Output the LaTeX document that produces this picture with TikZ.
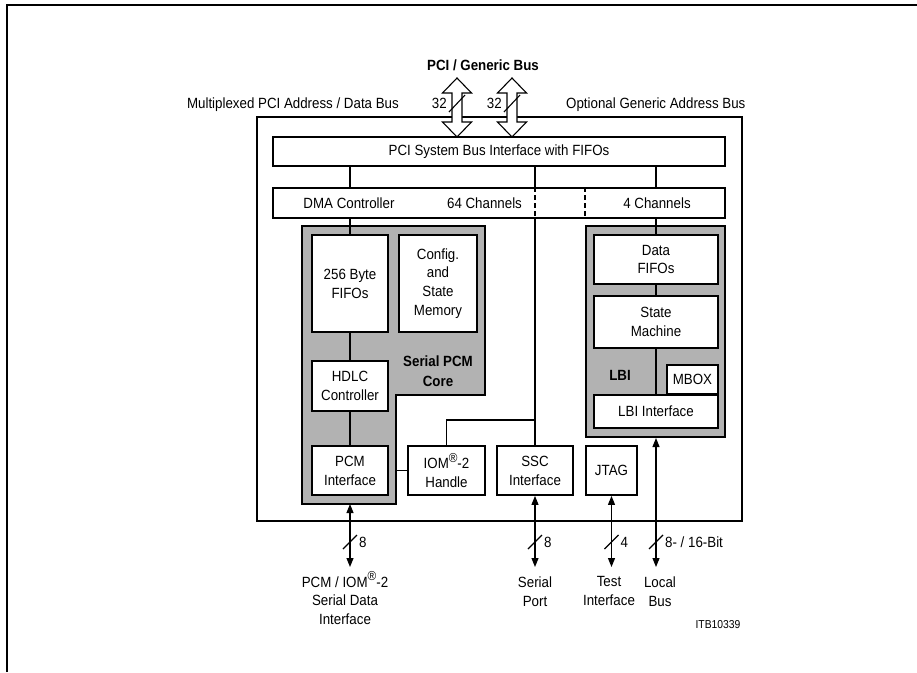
\documentclass[tikz,border=0pt]{standalone}
\usepackage{fontspec}
\setmainfont[FakeStretch=0.9]{Liberation Sans}
\usetikzlibrary{arrows.meta}

\newcommand\regmark{\raisebox{0.42em}{\fontsize{13}{13}\selectfont\textregistered}}

\begin{document}
\begin{tikzpicture}[x=1pt, y=-1pt,
    font=\fontsize{14.8}{18.8}\selectfont,
    blk/.style={draw, fill=white, line width=1.8pt, align=center, inner sep=0pt},
    core/.style={draw, fill=black!30, line width=2pt},
    wire/.style={line width=1.1pt},
    io/.style={wire, {Triangle[length=9pt,width=7pt]}-{Triangle[length=9pt,width=7pt]}},
    lbl/.style={align=center, inner sep=0pt},
    bold/.style={lbl, font=\fontsize{14.8}{20.5}\selectfont\bfseries}]
  \useasboundingbox (0,0) rectangle (917,672);
  % frame and chip
  \draw[line width=1.2pt] (7,672) -- (7,5) -- (917,5);
  \draw[line width=2.6pt] (257,117) rectangle (742,521);

  % serial PCM core and LBI
  \draw[core] (302,226) -- (485,226) -- (485,395) -- (396,395) -- (396,504) -- (302,504) -- cycle;
  \node[core, minimum width=139pt, minimum height=211pt, inner sep=0pt] (lbi) at (655.5,331.5) {};
  \node[bold] (corelbl) at (438,371) {Serial PCM\\Core};
  \node[bold] (lbilbl) at (620,375) {LBI};

  % PCI / generic bus
  \foreach \x in {457,512}
    \draw[wire, fill=white] (\x,78) -- ++(14.5,15) -- ++(-9.5,0) -- ++(0,29) -- ++(9.5,0)
      -- (\x,137) -- ++(-14.5,-15) -- ++(9.5,0) -- ++(0,-29) -- ++(-9.5,0) -- cycle;
  \foreach \x [count=\i] in {457,512} {
    \draw[wire] (\x-8,112) -- (\x+8,95);
    \node[lbl, anchor=base east] (w\i) at (\x-10,108) {32};
  }
  \node[bold] (bus) at (483,65) {PCI / Generic Bus};
  \node[lbl, anchor=base east] (muxlbl) at (399,108) {Multiplexed PCI Address / Data Bus};
  \node[lbl, anchor=base west] (genlbl) at (566,108) {Optional Generic Address Bus};

  % blocks
  \node[blk, minimum width=452pt, minimum height=29pt] (pci) at (499,151.5) {PCI System Bus Interface with FIFOs};
  \node[blk, minimum width=452pt, minimum height=30pt] (dma) at (499,203) {};
  \node[lbl, anchor=base] (dmalbl) at (349,208.5) {DMA Controller};
  \node[lbl, anchor=base] (ch64) at (484.5,208.5) {64 Channels};
  \node[lbl, anchor=base] (ch4) at (657,208.5) {4 Channels};

  \node[blk, minimum width=76pt, minimum height=97pt] (fifo) at (350,283.5) {256 Byte\\FIFOs};
  \node[blk, minimum width=78pt, minimum height=97pt] (cfg) at (438,283.5) {Config.\\and\\State\\Memory};
  \node[blk, minimum width=76pt, minimum height=50pt] (hdlc) at (350,386) {HDLC\\Controller};
  \node[blk, minimum width=76pt, minimum height=49pt] (pcm) at (350,470.5) {PCM\\Interface};
  \node[blk, minimum width=77pt, minimum height=49pt] (iom) at (446.5,470.5) {IOM\regmark-2\\Handle};
  \node[blk, minimum width=76pt, minimum height=49pt] (ssc) at (535,470.5) {SSC\\Interface};
  \node[blk, minimum width=51pt, minimum height=49pt] (jtag) at (611.5,470.5) {JTAG};

  \node[blk, minimum width=124pt, minimum height=49pt] (dfifo) at (656,259.5) {Data\\FIFOs};
  \node[blk, minimum width=124pt, minimum height=52pt] (sm) at (656,322) {State\\Machine};
  \node[blk, minimum width=51pt, minimum height=29pt] (mbox) at (692.5,379.5) {MBOX};
  \node[blk, minimum width=124pt, minimum height=33pt] (lbiif) at (656,411.5) {LBI Interface};

  % internal connections
  \draw[wire] (pci.south -| fifo) -- (dma.north -| fifo);
  \draw[wire] (pci.south -| ssc) -- (dma.north -| ssc);
  \draw[wire] (pci.south -| dfifo) -- (dma.north -| dfifo);
  \draw[wire, dash pattern=on 5pt off 3pt] (dma.north -| ssc) -- (dma.south -| ssc);
  \draw[wire, dash pattern=on 5pt off 3pt] (dma.north -| lbi.west) -- (dma.south -| lbi.west);
  \draw[wire] (dma.south -| fifo) -- (fifo.north);
  \draw[wire] (fifo) -- (hdlc);
  \draw[wire] (hdlc) -- (pcm);
  \draw[wire] (dma.south -| ssc) -- (ssc.north);
  \coordinate (tap) at (535,420);
  \draw[wire] (iom.north) |- (tap);
  \draw[wire] (iom.west) -- ++(-12,0);
  \draw[wire] (dma.south -| dfifo) -- (dfifo.north);
  \draw[wire] (dfifo) -- (sm);
  \draw[wire] (sm) -- (lbiif);

  % external ports
  \coordinate (corebot) at (350,504);
  \coordinate (pcmio) at (350,567);
  \coordinate (sscio) at (535,567);
  \coordinate (jtagio) at (611.5,567);
  \coordinate (lbusio) at (656,567);
  \draw[io] (corebot) -- (pcmio);
  \draw[io] (ssc.south) -- (sscio);
  \draw[io] (jtag.south) -- (jtagio);
  \draw[io] (lbi.south -| lbiif) -- (lbusio);
  \foreach \x/\w [count=\i] in {350/8, 535/8, 611.5/4, 656/{8- / 16-Bit}} {
    \draw[wire] (\x-7,549) -- (\x+7,535);
    \node[lbl, anchor=west] (bw\i) at (\x+9,542) {\w};
  }
  \node[lbl, anchor=north] (pcmlbl) at (345,571.5) {PCM / IOM\regmark-2\\Serial Data\\Interface};
  \node[lbl, anchor=north] (portlbl) at (535,576.5) {Serial\\Port};
  \node[lbl, anchor=north] (testlbl) at (609,576.5) {Test\\Interface};
  \node[lbl, anchor=north] (buslbl) at (660,576.5) {Local\\Bus};
  \node[lbl, anchor=base, font=\fontsize{11.5}{13}\selectfont] (itb) at (718,628) {ITB10339};
\end{tikzpicture}
\end{document}
